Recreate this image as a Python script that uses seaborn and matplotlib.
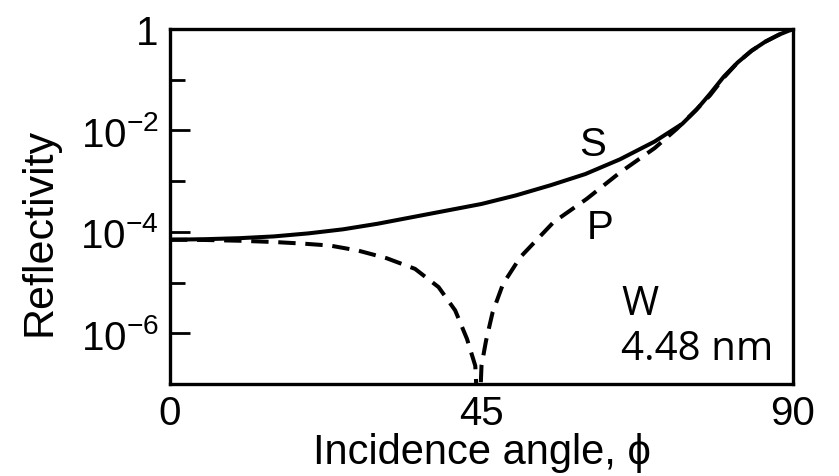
import numpy as np
import pandas as pd
import matplotlib
matplotlib.use("Agg")
import matplotlib.pyplot as plt
import matplotlib.ticker as mticker
import seaborn as sns

# S-polarisation: angle (deg) and log10(reflectivity)
s_angle = [0, 5, 10, 15, 20, 25, 30, 35, 40, 45, 50, 55, 60, 65, 70,
           74, 76, 78, 80, 82, 84, 86, 88, 90]
s_logr = [-4.155, -4.145, -4.125, -4.09, -4.03, -3.95, -3.84, -3.71, -3.58,
          -3.45, -3.28, -3.08, -2.86, -2.57, -2.22, -1.87, -1.6, -1.28,
          -0.94, -0.66, -0.43, -0.25, -0.11, 0.0]

# P-polarisation (dips below the axis near 45 deg)
p_angle = [0, 5, 10, 15, 19, 23.1, 27.2, 31.3, 35.4, 38.8, 41.2, 42.9,
           44.1, 44.6, 45.0, 45.65, 46.6, 48.1, 50.6, 55.4, 60.2, 65, 70,
           73.2, 76.1, 78, 80, 82, 84, 86, 88, 90]
p_logr = [-4.155, -4.16, -4.175, -4.2, -4.23, -4.27, -4.37, -4.52, -4.73,
          -5.09, -5.55, -6.11, -6.64, -8.0, -6.64, -6.15, -5.59, -5.03,
          -4.5, -3.81, -3.35, -2.83, -2.35, -1.97, -1.58, -1.31, -0.96,
          -0.66, -0.43, -0.25, -0.11, 0.0]

y_major = [1, 1e-2, 1e-4, 1e-6]
y_minor = [1e-1, 1e-3, 1e-5]
y_labels = ["1", "$10^{-2}$", "$10^{-4}$", "$10^{-6}$"]
x_ticks = [0, 45, 90]

sns.set_style("white", rc={"text.color": "black", "axes.labelcolor": "black",
                           "xtick.color": "black", "ytick.color": "black",
                           "axes.edgecolor": "black"})
plt.rcParams["font.family"] = ["Liberation Sans", "DejaVu Sans"]
plt.rcParams["mathtext.fontset"] = "custom"
plt.rcParams["mathtext.rm"] = "Liberation Sans"
plt.rcParams["mathtext.it"] = "Liberation Sans"
plt.rcParams["mathtext.default"] = "regular"
plt.rcParams["lines.scale_dashes"] = False

s_df = pd.DataFrame({"angle": s_angle, "R": 10 ** np.array(s_logr)})
p_df = pd.DataFrame({"angle": p_angle, "R": 10 ** np.array(p_logr)})

fig = plt.figure(figsize=(8.39, 4.77), dpi=100)
ax = fig.add_axes([0.2026, 0.1929, 0.7426, 0.7442])

sns.lineplot(data=s_df, x="angle", y="R", ax=ax, color="black", lw=2.9)
sns.lineplot(data=p_df, x="angle", y="R", ax=ax, color="black", lw=2.9,
             linestyle="--")
ax.lines[1].set_dashes((12.5, 7))

ax.set_yscale("log")
ax.set_xlim(0, 90)
ax.set_ylim(1e-7, 1)

ax.yaxis.set_major_locator(mticker.FixedLocator(y_major))
ax.yaxis.set_major_formatter(mticker.FixedFormatter(y_labels))
ax.yaxis.set_minor_locator(mticker.FixedLocator(y_minor))
ax.yaxis.set_minor_formatter(mticker.NullFormatter())
ax.set_xticks(x_ticks)
ax.set_xticklabels([str(t) for t in x_ticks])

ax.tick_params(axis="y", which="major", direction="in", length=14.5,
               width=2, labelsize=29, pad=8, left=True)
ax.tick_params(axis="y", which="minor", direction="in", length=10.5,
               width=2, left=True)
ax.tick_params(axis="x", length=0, labelsize=29, pad=7)

for sp in ax.spines.values():
    sp.set_linewidth(2.4)

ax.set_xlabel("Incidence angle, \u03d5", fontsize=30, labelpad=0.5)
ax.set_ylabel("Reflectivity", fontsize=31)
ax.yaxis.set_label_coords(-0.178, 0.43)

ax.text(61.0, 10 ** -2.27, "S", fontsize=29, ha="center", va="center")
ax.text(62.1, 10 ** -3.9, "P", fontsize=29, ha="center", va="center")
ax.text(65.2, 10 ** -5.42, "W", fontsize=29, family="Open Sans",
        ha="left", va="center")
ax.text(65.2, 10 ** -6.31, "4.48 nm", fontsize=29, family="Open Sans",
        ha="left", va="center")

fig.savefig("out.png", dpi=100)
